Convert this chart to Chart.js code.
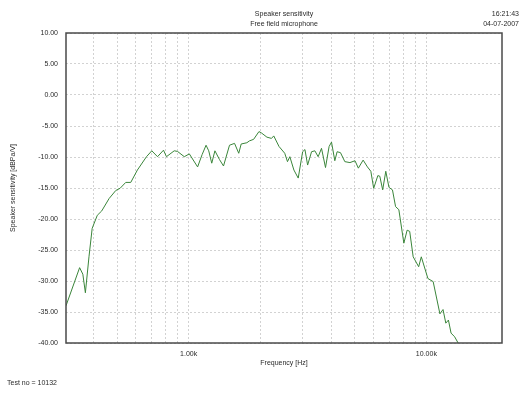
<!DOCTYPE html>
<html>
<head>
<title>Speaker sensitivity</title>
<style>
  body { margin: 0; background: #fff; }
  .chart-container { position: relative; width: 528px; height: 396px; }
</style>
</head>
<body>
<div class="chart-container">
<canvas id="mycanvas" width="528" height="396"></canvas>
</div>

<script src="https://cdn.jsdelivr.net/npm/chart.js@4/dist/chart.umd.min.js"></script>
<script>
// values (Hz, dBPa/V)
var freq = [305, 348, 359, 368, 381, 393, 413, 431, 463, 494, 515, 544, 571, 609, 665, 700,
  740, 784, 807, 870, 898, 959, 1007, 1091, 1140, 1184, 1215, 1251, 1290, 1348, 1402,
  1486, 1560, 1625, 1664, 1758, 1802, 1877, 1976, 2021, 2135, 2231, 2281, 2400, 2537,
  2605, 2665, 2772, 2891, 3017, 3085, 3166, 3289, 3396, 3506, 3622, 3765, 3899, 3990,
  4120, 4213, 4353, 4540, 4770, 5010, 5175, 5420, 5650, 5840, 6003, 6250, 6370, 6550,
  6750, 6960, 7200, 7420, 7660, 8040, 8300, 8510, 8800, 9280, 9520, 10150, 10680,
  11400, 11750, 12070, 12380, 12700, 13150, 13600];
var sensitivity = [-34.0, -27.85, -28.9, -31.9, -26.1, -21.5, -19.4, -18.7, -16.7, -15.4,
  -15.05, -14.1, -14.1, -12.1, -9.95, -9.0, -9.95, -8.9, -9.95, -9.0, -9.1, -9.95, -9.5,
  -11.6, -9.6, -8.1, -9.0, -11.0, -9.0, -10.4, -11.45, -8.1, -7.8, -9.4, -7.9, -7.7,
  -7.4, -7.15, -5.9, -6.1, -6.8, -7.0, -6.6, -8.3, -9.4, -10.75, -9.95, -12.1, -13.4,
  -9.15, -8.8, -11.3, -9.15, -9.0, -9.95, -8.6, -11.7, -8.3, -7.6, -10.6, -9.15, -9.3,
  -10.75, -10.9, -10.6, -11.8, -10.5, -11.6, -12.3, -15.05, -13.0, -13.1, -15.3, -12.3,
  -14.9, -15.3, -18.0, -18.5, -23.9, -21.8, -22.0, -26.1, -27.7, -26.1, -29.6, -30.1,
  -35.3, -34.6, -36.8, -36.3, -38.4, -39.0, -40.0];

var xGrid = [400, 500, 600, 700, 800, 900, 1000, 2000, 3000, 4000, 5000, 6000, 7000, 8000, 9000, 10000];
var xLabels = { 1000: "1.00k", 10000: "10.00k" };

var titleLines = ["Speaker sensitivity", "Free field microphone"];
var stampLines = ["16:21:43", "04-07-2007"];
var testNote = "Test no = 10132";

var FONT = { family: '"Liberation Sans", Arial, sans-serif', size: 7 };
var TEXT = "#2a2a2a";

var points = freq.map(function (f, i) { return { x: f, y: sensitivity[i] }; });

var annotations = {
  id: "annotations",
  afterDraw: function (chart) {
    var ctx = chart.ctx, a = chart.chartArea;
    ctx.save();
    ctx.strokeStyle = "#4a4a4a";
    ctx.lineWidth = 1.5;
    ctx.strokeRect(a.left, a.top, a.right - a.left, a.bottom - a.top);
    ctx.font = FONT.size + "px " + FONT.family;
    ctx.fillStyle = TEXT;
    ctx.textBaseline = "middle";
    ctx.textAlign = "center";
    var cx = (a.left + a.right) / 2;
    titleLines.forEach(function (t, i) { ctx.fillText(t, cx, 14 + i * 10); });
    ctx.textAlign = "right";
    stampLines.forEach(function (t, i) { ctx.fillText(t, 519, 14 + i * 10); });
    ctx.textAlign = "left";
    ctx.fillText(testNote, 7, 383);
    ctx.restore();
  }
};

var ctx = document.getElementById("mycanvas");

var LineGraph = new Chart(ctx, {
  type: "line",
  data: {
    datasets: [{
      label: "Speaker sensitivity",
      data: points,
      borderColor: "#3a853a",
      borderWidth: 1,
      pointRadius: 0,
      fill: false,
      tension: 0
    }]
  },
  options: {
    responsive: false,
    animation: false,
    layout: { padding: { top: 33, right: 26, bottom: 20, left: 0 } },
    plugins: { legend: { display: false }, tooltip: { enabled: false } },
    scales: {
      x: {
        type: "logarithmic",
        min: 305,
        max: 20800,
        afterBuildTicks: function (scale) {
          scale.ticks = xGrid.map(function (v) { return { value: v }; });
        },
        afterFit: function (scale) { scale.height = 33; },
        grid: { color: "#d2d2d2", lineWidth: 1, drawTicks: false },
        border: { display: false, dash: [2, 2] },
        ticks: {
          autoSkip: false,
          maxRotation: 0,
          padding: 7,
          color: TEXT,
          font: FONT,
          callback: function (v) { return xLabels[v] || ""; }
        },
        title: { display: true, text: "Frequency [Hz]", color: TEXT, font: FONT, padding: { top: 0, bottom: 8.8 } }
      },
      y: {
        min: -40,
        max: 10,
        afterFit: function (scale) { scale.width = 66; },
        grid: { color: "#d2d2d2", lineWidth: 1, drawTicks: false },
        border: { display: false, dash: [2, 2] },
        ticks: {
          stepSize: 5,
          padding: 8,
          color: TEXT,
          font: FONT,
          callback: function (v) { return v.toFixed(2); }
        },
        title: { display: true, text: "Speaker sensitivity [dBPa/V]", color: TEXT, font: FONT, padding: { top: 9.3, bottom: 0 } }
      }
    }
  },
  plugins: [annotations]
});
</script>
</body>
</html>
